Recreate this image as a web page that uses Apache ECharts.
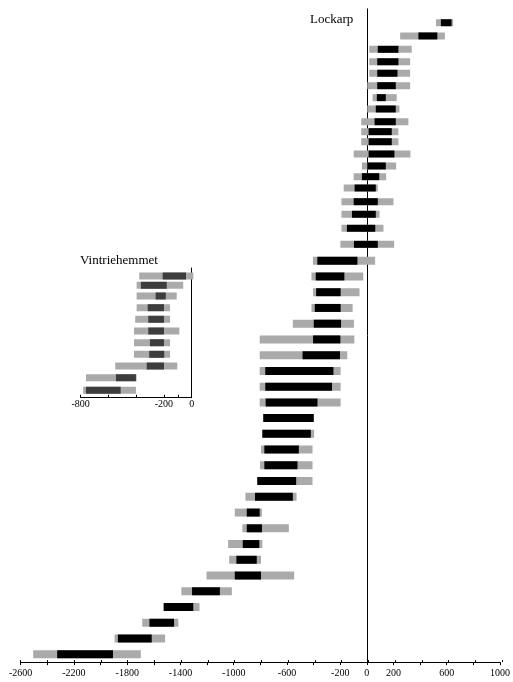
<!DOCTYPE html>
<html>
<head>
<meta charset="utf-8">
<script src="https://cdn.jsdelivr.net/npm/echarts@6/dist/echarts.min.js"></script>
<style>
  html, body { margin: 0; padding: 0; background: #fff; }
  #chart { width: 513px; height: 682px; }
</style>
</head>
<body>
<div id="chart"></div>
<script>
// Lockarp: row position (top -> bottom), grey range and black range
var rowPos = [0.88, 1.72, 2.57, 3.36, 4.09, 4.88, 5.64, 6.36, 7.17, 7.80,
  8.44, 9.22, 9.98, 10.66, 11.38, 12.25, 13.05, 13.94, 14.96,
  16, 17, 18, 19, 20, 21, 22, 23, 24, 25, 26, 27, 28, 29, 30,
  31, 32, 33, 34, 35, 36, 37, 38, 39, 40, 41]
var greyStart = [519, 250, 18, 18, 18, 3, 43, 3, -42, -42,
  -42, -99, -37, -99, -174, -191, -191, -191, -199,
  -405, -416, -404, -416, -556, -805, -805, -805, -805, -805, -778, -785, -795, -802, -823,
  -912, -992, -935, -1042, -1034, -1204, -1393, -1526, -1687, -1895, -2506]
var greyEnd = [648, 586, 337, 325, 325, 325, 224, 245, 312, 237,
  237, 327, 220, 145, 82, 200, 95, 125, 205,
  62, -27, -55, -107, -97, -94, -147, -197, -197, -197, -399, -396, -408, -408, -408,
  -528, -788, -586, -785, -795, -546, -1014, -1257, -1416, -1515, -1698]
var blackStart = [556, 387, 82, 78, 78, 78, 75, 67, 58, 13,
  13, 13, 3, -37, -92, -99, -112, -150, -97,
  -372, -384, -381, -391, -399, -404, -483, -763, -763, -760, -778, -785, -770, -770, -823,
  -840, -902, -902, -932, -980, -992, -1313, -1526, -1633, -1870, -2326]
var blackEnd = [636, 529, 237, 237, 230, 217, 142, 217, 217, 187,
  187, 207, 142, 93, 67, 82, 67, 63, 82,
  -71, -169, -197, -197, -194, -199, -202, -251, -262, -371, -399, -421, -511, -521, -531,
  -556, -805, -788, -808, -827, -795, -1104, -1304, -1448, -1616, -1907]

// Vintriehemmet (inset)
var insetPos = [0.69, 1.49, 2.41, 3.42, 4.42, 5.43, 6.44, 7.44, 8.45, 9.46, 10.54]
var insetGreyStart = [-378, -397, -397, -397, -407, -416, -416, -416, -551, -762, -782]
var insetGreyEnd = [12, -61, -108, -156, -156, -89, -156, -156, -104, -397, -402]
var insetDarkStart = [-209, -366, -260, -317, -313, -313, -301, -306, -324, -546, -762]
var insetDarkEnd = [-41, -180, -187, -200, -200, -200, -200, -198, -200, -402, -512]

// axis ticks / labels
var mainTicks = [-2600, -2400, -2200, -2000, -1800, -1600, -1400, -1200, -1000, -800,
  -600, -400, -200, 0, 200, 400, 600, 800, 1000]
var mainLabels = [-2600, -2200, -1800, -1400, -1000, -600, -200, 0, 200, 600, 1000]
var insetTicks = [-800, -600, -400, -200, -100, 0]
var insetLabels = [-800, -200, 0]

var serif = '"Liberation Serif", "DejaVu Serif", serif'

function toRanges (pos, a, b) {
  return pos.map(function (p, i) { return [a[i], b[i], p] })
}

function rangeBar (heightFn) {
  return function (params, api) {
    var y = api.value(2)
    var p1 = api.coord([api.value(0), y])
    var p2 = api.coord([api.value(1), y])
    var h = heightFn(y)
    return {
      type: 'rect',
      shape: { x: p1[0], y: p1[1] - h / 2, width: p2[0] - p1[0], height: h },
      style: { fill: api.visual('color') }
    }
  }
}

var plain = function (v) { return String(v) }
var mainHeight = function (y) { return y < 15.5 ? 7 : 8 }
var insetHeight = function () { return 7 }

var chart = echarts.init(document.getElementById('chart'), null, { renderer: 'canvas' })

chart.setOption({
  animation: false,
  backgroundColor: '#fff',
  title: [{
    text: 'Lockarp',
    left: 305, top: 8,
    textStyle: { fontFamily: serif, fontSize: 13, fontWeight: 'normal', color: '#000' }
  }, {
    text: 'Vintriehemmet',
    left: 75, top: 249,
    textStyle: { fontFamily: serif, fontSize: 13, fontWeight: 'normal', color: '#000' }
  }],
  grid: [
    { left: 20.7, right: 11, top: 8.86, bottom: 19.9 },
    { left: 80.7, right: 321.3, top: 268, bottom: 284.3 },
    { left: 20.7, right: 11, top: 8.86, bottom: 19.9 }
  ],
  xAxis: [{
    gridIndex: 0,
    type: 'value',
    min: -2600, max: 1000,
    position: 'bottom',
    axisLine: { onZero: false, lineStyle: { color: '#000', width: 1 } },
    axisTick: { length: 3, lineStyle: { color: '#000' }, customValues: mainTicks },
    axisLabel: { customValues: mainLabels, formatter: plain, color: '#000', fontFamily: serif, fontSize: 10, margin: 6 },
    splitLine: { show: false }
  }, {
    gridIndex: 1,
    type: 'value',
    min: -800, max: 0,
    position: 'bottom',
    axisLine: { onZero: false, lineStyle: { color: '#000', width: 1 } },
    axisTick: { inside: true, length: 3, lineStyle: { color: '#000' }, customValues: insetTicks },
    axisLabel: { customValues: insetLabels, formatter: plain, color: '#000', fontFamily: serif, fontSize: 10, margin: 2 },
    splitLine: { show: false }
  }, {
    // upper half of the crossing ticks on the main axis
    gridIndex: 2,
    type: 'value',
    min: -2600, max: 1000,
    position: 'bottom',
    axisLine: { show: false, onZero: false },
    axisTick: { inside: true, length: 2, lineStyle: { color: '#000' }, customValues: mainTicks },
    axisLabel: { show: false },
    splitLine: { show: false }
  }],
  yAxis: [{
    gridIndex: 0,
    type: 'value',
    min: 0, max: 41.5,
    inverse: true,
    axisLine: { show: true, onZero: true, lineStyle: { color: '#000', width: 1 } },
    axisTick: { show: false },
    axisLabel: { show: false },
    splitLine: { show: false }
  }, {
    gridIndex: 1,
    type: 'value',
    min: 0, max: 11.18,
    inverse: true,
    axisLine: { show: true, onZero: true, lineStyle: { color: '#000', width: 1 } },
    axisTick: { show: false },
    axisLabel: { show: false },
    splitLine: { show: false }
  }, {
    gridIndex: 2,
    type: 'value',
    min: 0, max: 41.5,
    show: false
  }],
  series: [{
    name: 'Lockarp grey',
    type: 'custom',
    xAxisIndex: 0, yAxisIndex: 0,
    itemStyle: { color: '#aaaaaa' },
    encode: { x: [0, 1], y: 2 },
    renderItem: rangeBar(mainHeight),
    data: toRanges(rowPos, greyStart, greyEnd)
  }, {
    name: 'Lockarp black',
    type: 'custom',
    xAxisIndex: 0, yAxisIndex: 0,
    itemStyle: { color: '#000000' },
    encode: { x: [0, 1], y: 2 },
    renderItem: rangeBar(mainHeight),
    data: toRanges(rowPos, blackStart, blackEnd)
  }, {
    name: 'Vintriehemmet grey',
    type: 'custom',
    xAxisIndex: 1, yAxisIndex: 1,
    itemStyle: { color: '#aaaaaa' },
    encode: { x: [0, 1], y: 2 },
    renderItem: rangeBar(insetHeight),
    data: toRanges(insetPos, insetGreyStart, insetGreyEnd)
  }, {
    name: 'Vintriehemmet dark',
    type: 'custom',
    xAxisIndex: 1, yAxisIndex: 1,
    itemStyle: { color: '#3d3d3d' },
    encode: { x: [0, 1], y: 2 },
    renderItem: rangeBar(insetHeight),
    data: toRanges(insetPos, insetDarkStart, insetDarkEnd)
  }]
})
</script>
</body>
</html>
